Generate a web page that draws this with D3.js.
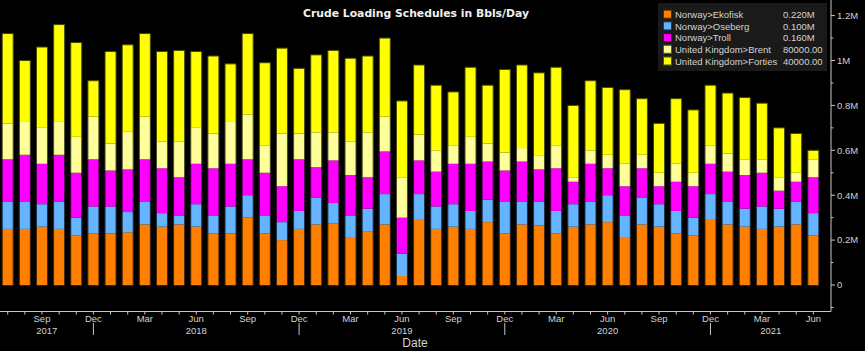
<!DOCTYPE html>
<html>
<head>
<meta charset="utf-8">
<script src="https://cdn.jsdelivr.net/npm/d3@7"></script>
<style>
  html, body { margin: 0; padding: 0; background: #000; }
  svg { display: block; font-family: "Liberation Sans", Arial, sans-serif; }
</style>
</head>
<body>
<div id="chart"></div>
<script>
// Monthly categories, Jul 2017 .. Jun 2021
const months = [
    "2017-07", "2017-08", "2017-09", "2017-10", "2017-11", "2017-12",
    "2018-01", "2018-02", "2018-03", "2018-04", "2018-05", "2018-06",
    "2018-07", "2018-08", "2018-09", "2018-10", "2018-11", "2018-12",
    "2019-01", "2019-02", "2019-03", "2019-04", "2019-05", "2019-06",
    "2019-07", "2019-08", "2019-09", "2019-10", "2019-11", "2019-12",
    "2020-01", "2020-02", "2020-03", "2020-04", "2020-05", "2020-06",
    "2020-07", "2020-08", "2020-09", "2020-10", "2020-11", "2020-12",
    "2021-01", "2021-02", "2021-03", "2021-04", "2021-05", "2021-06"
];

// values in million bbl/day
const ekofisk = [0.25, 0.25, 0.26, 0.25, 0.22, 0.23, 0.23, 0.235, 0.27, 0.26, 0.27, 0.26,
    0.23, 0.23, 0.30, 0.23, 0.20, 0.25, 0.27, 0.275, 0.21, 0.24, 0.27, 0.04,
    0.29, 0.25, 0.26, 0.25, 0.28, 0.23, 0.27, 0.265, 0.23, 0.26, 0.27, 0.28,
    0.21, 0.27, 0.26, 0.23, 0.22, 0.29, 0.27, 0.26, 0.25, 0.26, 0.27, 0.22];
const oseberg = [0.12, 0.12, 0.10, 0.12, 0.08, 0.12, 0.12, 0.09, 0.10, 0.06, 0.04, 0.10,
    0.08, 0.12, 0.10, 0.08, 0.08, 0.08, 0.12, 0.09, 0.10, 0.10, 0.135, 0.10,
    0.115, 0.10, 0.10, 0.08, 0.10, 0.14, 0.10, 0.105, 0.10, 0.10, 0.10, 0.12,
    0.10, 0.12, 0.10, 0.10, 0.08, 0.115, 0.10, 0.08, 0.10, 0.08, 0.10, 0.10];
const troll = [0.19, 0.21, 0.18, 0.21, 0.20, 0.21, 0.16, 0.19, 0.19, 0.20, 0.17, 0.18,
    0.21, 0.19, 0.16, 0.19, 0.16, 0.23, 0.135, 0.19, 0.18, 0.14, 0.19, 0.16,
    0.15, 0.155, 0.18, 0.21, 0.17, 0.14, 0.18, 0.145, 0.19, 0.10, 0.17, 0.12,
    0.13, 0.13, 0.08, 0.13, 0.14, 0.135, 0.135, 0.15, 0.15, 0.08, 0.09, 0.16];
const brent = [0.16, 0.15, 0.16, 0.15, 0.16, 0.19, 0.12, 0.17, 0.19, 0.12, 0.16, 0.16,
    0.155, 0.19, 0.20, 0.12, 0.235, 0.115, 0.155, 0.125, 0.15, 0.20, 0.155, 0.18,
    0.115, 0.095, 0.08, 0.12, 0.08, 0.08, 0.06, 0.06, 0.10, 0.02, 0.06, 0.06,
    0.10, 0.06, 0.06, 0.08, 0.06, 0.08, 0.08, 0.07, 0.06, 0.06, 0.04, 0.08];
const forties = [0.40, 0.27, 0.36, 0.43, 0.42, 0.16, 0.41, 0.385, 0.37, 0.40, 0.405, 0.34,
    0.345, 0.255, 0.36, 0.37, 0.38, 0.29, 0.345, 0.365, 0.37, 0.34, 0.35, 0.34,
    0.31, 0.29, 0.24, 0.31, 0.26, 0.37, 0.37, 0.37, 0.35, 0.32, 0.31, 0.30,
    0.33, 0.25, 0.22, 0.29, 0.28, 0.27, 0.27, 0.275, 0.25, 0.22, 0.175, 0.04];

const seriesNames = ["Norway>Ekofisk", "Norway>Oseberg", "Norway>Troll",
    "United Kingdom>Brent", "United Kingdom>Forties"];
const lastValues = ["0.220M", "0.100M", "0.160M", "80000.00", "40000.00"];
const colors = ["#ff8000", "#64b4ff", "#ff00ff", "#ffff99", "#ffff00"];

const quarterLabels = { "09": "Sep", "12": "Dec", "03": "Mar", "06": "Jun" };
const yearLabels = ["2017", "2018", "2019", "2020", "2021"];
const yTicks = [0, 0.2, 0.4, 0.6, 0.8, 1.0, 1.2];
const yTickLabels = ["0", "0.2M", "0.4M", "0.6M", "0.8M", "1M", "1.2M"];

const W = 865, H = 351;
const axisX = 831;     // y-axis on the right
const axisY = 311.5;   // x-axis line

const svg = d3.select("#chart").append("svg")
    .attr("width", W)
    .attr("height", H)
    .style("background", "#000");

const x = d3.scaleBand()
    .domain(months)
    .range([-0.87, 821.9])
    .paddingInner(0.3)
    .paddingOuter(0.15);

const y = d3.scaleLinear()
    .domain([-0.118, 1.2695])
    .range([axisY, 0]);

// stack data
const table = months.map((m, i) => ({
    month: m,
    [seriesNames[0]]: ekofisk[i],
    [seriesNames[1]]: oseberg[i],
    [seriesNames[2]]: troll[i],
    [seriesNames[3]]: brent[i],
    [seriesNames[4]]: forties[i]
}));
const stacked = d3.stack().keys(seriesNames)(table);

const bw = x.bandwidth();
stacked.forEach((layer, li) => {
    const c = colors[li];
    const isTop = li === stacked.length - 1;
    svg.append("g")
        .selectAll("rect")
        .data(layer)
        .join("rect")
        .attr("x", d => x(d.data.month) + 0.5)
        .attr("width", bw - 1)
        .attr("y", d => y(d[1]))
        .attr("height", d => y(d[0]) - y(d[1]))
        .attr("fill", c)
        .attr("stroke", d3.color(c).darker(3.5))
        .attr("stroke-width", 1)
        .attr("stroke-dasharray", d => {
            const w = bw - 1, h = y(d[0]) - y(d[1]);
            // only side edges (plus the top edge on the topmost segment)
            return isTop ? `${w + h},${w},${h},0` : `0,${w},${h},${w},${h}`;
        });
});

// bar bottoms
svg.append("g")
    .selectAll("line")
    .data(months)
    .join("line")
    .attr("x1", d => x(d) + 0.5)
    .attr("x2", d => x(d) + bw - 0.5)
    .attr("y1", y(0) + 0.5)
    .attr("y2", y(0) + 0.5)
    .attr("stroke", "#3a2000");

// x axis
const axisColor = "#c8c8c8";
const textColor = "#d2d2d2";
svg.append("line")
    .attr("x1", 0).attr("x2", axisX)
    .attr("y1", axisY).attr("y2", axisY)
    .attr("stroke", axisColor);

const xa = svg.append("g");
xa.selectAll(".mtick")
    .data(months)
    .join("line")
    .attr("x1", d => x(d) + bw / 2)
    .attr("x2", d => x(d) + bw / 2)
    .attr("y1", axisY)
    .attr("y2", axisY + 3)
    .attr("stroke", axisColor);

const quarterMonths = months.filter(m => quarterLabels[m.slice(5)]);
xa.selectAll(".mlabel")
    .data(quarterMonths)
    .join("text")
    .attr("x", d => x(d) + bw / 2)
    .attr("y", 322)
    .attr("text-anchor", "middle")
    .attr("fill", textColor)
    .style("font-size", "9.5px")
    .text(d => quarterLabels[d.slice(5)]);

// year separators at December
const decs = months.filter(m => m.slice(5) === "12");
xa.selectAll(".ysep")
    .data(decs)
    .join("line")
    .attr("x1", d => x(d) + bw / 2)
    .attr("x2", d => x(d) + bw / 2)
    .attr("y1", 323)
    .attr("y2", 335)
    .attr("stroke", axisColor);

const bounds = [0, ...decs.map(d => x(d) + bw / 2), axisX];
xa.selectAll(".ylabel")
    .data(yearLabels)
    .join("text")
    .attr("x", (d, i) => (bounds[i] + bounds[i + 1]) / 2)
    .attr("y", 334)
    .attr("text-anchor", "middle")
    .attr("fill", textColor)
    .style("font-size", "9.5px")
    .text(d => d);

svg.append("text")
    .attr("x", 415)
    .attr("y", 347)
    .attr("text-anchor", "middle")
    .attr("fill", textColor)
    .style("font-size", "12px")
    .text("Date");

// y axis on the right
svg.append("line")
    .attr("x1", axisX).attr("x2", axisX)
    .attr("y1", 0).attr("y2", axisY)
    .attr("stroke", axisColor);

const minorTicks = d3.range(-0.1, 1.2, 0.2);
svg.append("g")
    .selectAll("line")
    .data(minorTicks)
    .join("line")
    .attr("x1", axisX).attr("x2", axisX + 2.5)
    .attr("y1", d => y(d)).attr("y2", d => y(d))
    .attr("stroke", axisColor);

const ya = svg.append("g");
ya.selectAll("line")
    .data(yTicks)
    .join("line")
    .attr("x1", axisX).attr("x2", axisX + 4)
    .attr("y1", d => y(d)).attr("y2", d => y(d))
    .attr("stroke", axisColor);
ya.selectAll("text")
    .data(yTicks)
    .join("text")
    .attr("x", axisX + 6)
    .attr("y", d => y(d))
    .attr("dy", "0.35em")
    .attr("fill", textColor)
    .style("font-size", "9.5px")
    .text((d, i) => yTickLabels[i]);

// title
svg.append("text")
    .attr("x", 416)
    .attr("y", 17)
    .attr("text-anchor", "middle")
    .attr("fill", "#f0f0f0")
    .style("font-family", "'DejaVu Sans', sans-serif")
    .style("font-size", "10.8px")
    .style("font-weight", "bold")
    .text("Crude Loading Schedules in Bbls/Day");

// legend
const legend = svg.append("g").attr("transform", "translate(658,3)");
legend.append("rect")
    .attr("width", 169)
    .attr("height", 68)
    .attr("fill", "#1a1a1a");
const rows = legend.selectAll(".row")
    .data(seriesNames)
    .join("g")
    .attr("transform", (d, i) => `translate(0,${11.7 + i * 11.7})`);
rows.append("rect")
    .attr("x", 5.5).attr("y", -4.5)
    .attr("width", 8).attr("height", 8)
    .attr("fill", (d, i) => colors[i])
    .attr("stroke", (d, i) => d3.color(colors[i]).darker(3));
rows.append("text")
    .attr("x", 17)
    .attr("dy", "0.35em")
    .attr("fill", textColor)
    .style("font-size", "9.5px")
    .text(d => d);
rows.append("text")
    .attr("x", 125)
    .attr("dy", "0.35em")
    .attr("fill", textColor)
    .style("font-size", "9.5px")
    .text((d, i) => lastValues[i]);
</script>
</body>
</html>
